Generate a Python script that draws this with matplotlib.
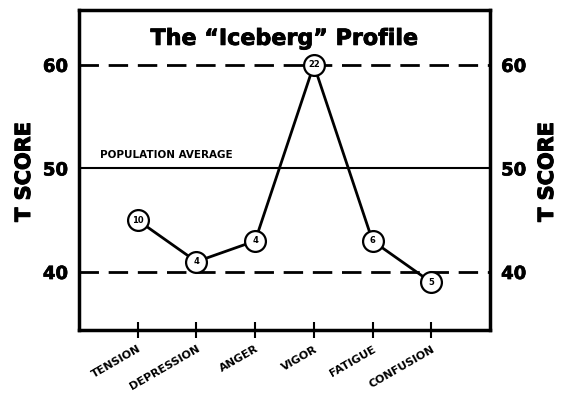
import matplotlib.pyplot as plt
import matplotlib.patheffects as pe

scales = ["TENSION", "DEPRESSION", "ANGER", "VIGOR", "FATIGUE", "CONFUSION"]
t_scores = [45, 41, 43, 60, 43, 39]
raw_scores = ["10", "4", "4", "22", "6", "5"]
y_ticks = [40, 50, 60]

plt.rcParams['font.family'] = ['DejaVu Sans']
plt.rcParams['font.weight'] = 'bold'

heavy = [pe.withStroke(linewidth=0.8, foreground='black')]

fig = plt.figure(figsize=(5.65, 4.01), dpi=100)
ax = fig.add_axes([79 / 565, 1 - 330 / 401, 411 / 565, 320 / 401])

x = list(range(len(scales)))
ax.set_xlim(-1, 6)
ax.set_ylim(34.4, 65.3)

# reference lines
ax.axhline(60, color='black', lw=2, dashes=(7, 3.5))
ax.axhline(40, color='black', lw=2, dashes=(7, 3.5))
ax.axhline(50, color='black', lw=1.5)
ax.text(-0.65, 50.8, "POPULATION AVERAGE", fontsize=7.5, fontweight='bold', va='bottom')

ax.plot(x, t_scores, color='black', lw=2, marker='o', markersize=15,
        markerfacecolor='white', markeredgecolor='black', markeredgewidth=1.6, zorder=3)
for xi, yi, s in zip(x, t_scores, raw_scores):
    ax.text(xi, yi, s, fontsize=6, fontweight='bold', ha='center', va='center', zorder=4)

ax.set_title('The \u201cIceberg\u201d Profile', fontsize=16, fontweight='heavy', y=0.865,
             path_effects=[pe.withStroke(linewidth=0.6, foreground='black')])

for sp in ax.spines.values():
    sp.set_linewidth(2.5)

ax.set_yticks(y_ticks)
ax.set_yticklabels([str(v) for v in y_ticks], fontsize=13, fontweight='bold')
ax.tick_params(axis='y', length=0, pad=8, labelright=True)
for tk in ax.yaxis.get_major_ticks():
    tk.label1.set_path_effects([pe.withStroke(linewidth=0.5, foreground='black')])
    tk.label2.set_path_effects([pe.withStroke(linewidth=0.5, foreground='black')])

fig.text(24 / 565, 1 - 172 / 401, "T SCORE", fontsize=15, fontweight='heavy',
         rotation=90, ha='center', va='center', path_effects=heavy)
fig.text(547 / 565, 1 - 172 / 401, "T SCORE", fontsize=15, fontweight='heavy',
         rotation=90, ha='center', va='center', path_effects=heavy)

ax.set_xticks(x)
ax.set_xticklabels(scales, rotation=30, ha='right', rotation_mode='anchor',
                   fontsize=8, fontweight='bold')
ax.tick_params(axis='x', direction='inout', length=12, width=1.5, pad=4)

fig.savefig('out.png', dpi=100)
